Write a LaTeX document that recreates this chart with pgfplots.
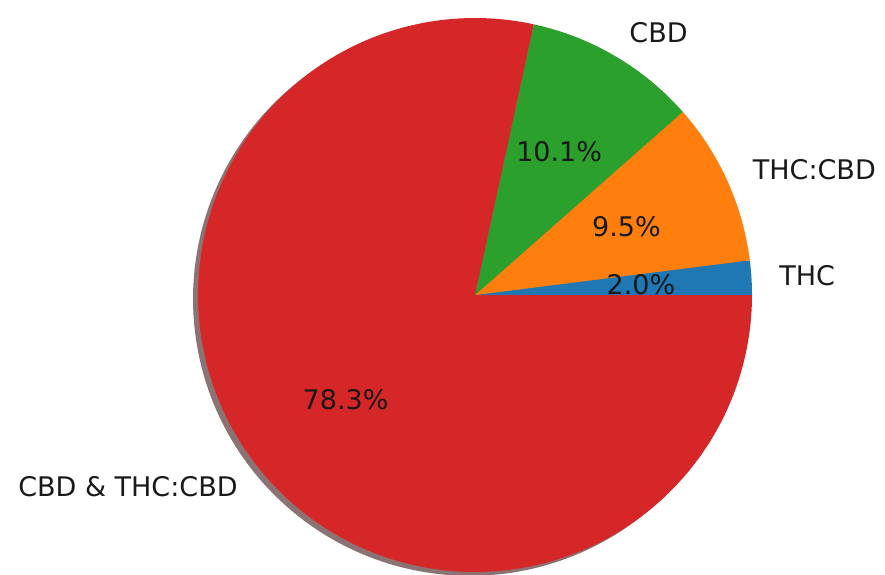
\documentclass[border=0pt]{standalone}
\usepackage{pgfplots}
\pgfplotsset{compat=1.18}
\usepackage{fontspec}
\setmainfont{DejaVu Sans}
\definecolor{tabblue}{HTML}{1F77B4}
\definecolor{taborange}{HTML}{FF7F0E}
\definecolor{tabgreen}{HTML}{2CA02C}
\definecolor{tabred}{HTML}{D62728}
\definecolor{shadowc}{RGB}{140,115,115}
% pie values (percent)
\def\vA{2.0}   % THC
\def\vB{9.5}   % THC:CBD
\def\vC{10.1}  % CBD
\def\vD{78.3}  % CBD & THC:CBD
\pgfmathsetmacro{\aA}{0}
\pgfmathsetmacro{\aB}{\aA+3.6*\vA}
\pgfmathsetmacro{\aC}{\aB+3.6*\vB}
\pgfmathsetmacro{\aD}{\aC+3.6*\vC}
\pgfmathsetmacro{\aE}{360}
\tikzset{lbl/.style={inner sep=0pt, font=\fontsize{27}{32}\selectfont, text=black!90}}
\begin{document}
\begin{tikzpicture}
\begin{axis}[
  scale only axis, width=885pt, height=575pt,
  xmin=-1.7148, xmax=1.4801, ymin=-1.0108, ymax=1.0650,
  axis line style={draw=none}, xtick=\empty, ytick=\empty,
  enlargelimits=false,
]
\addplot[fill=shadowc, draw=none, domain=0:360, samples=240] ({cos(x)-0.018},{sin(x)-0.014}) -- cycle;
\addplot[fill=tabblue, draw=none, domain=\aA:\aB, samples=10] ({cos(x)},{sin(x)}) -- (axis cs:0,0) -- cycle;
\addplot[fill=taborange, draw=none, domain=\aB:\aC, samples=40] ({cos(x)},{sin(x)}) -- (axis cs:0,0) -- cycle;
\addplot[fill=tabgreen, draw=none, domain=\aC:\aD, samples=40] ({cos(x)},{sin(x)}) -- (axis cs:0,0) -- cycle;
\addplot[fill=tabred, draw=none, domain=\aD:\aE, samples=240] ({cos(x)},{sin(x)}) -- (axis cs:0,0) -- cycle;
\node[lbl, anchor=west] at (axis cs:{1.1*cos((\aA+\aB)/2)},{1.1*sin((\aA+\aB)/2)}) {THC};
\node[lbl, anchor=west] at (axis cs:{1.1*cos((\aB+\aC)/2)},{1.1*sin((\aB+\aC)/2)}) {THC:CBD};
\node[lbl, anchor=west] at (axis cs:{1.1*cos((\aC+\aD)/2)},{1.1*sin((\aC+\aD)/2)}) {CBD};
\node[lbl, anchor=east] at (axis cs:{1.1*cos((\aD+\aE)/2)},{1.1*sin((\aD+\aE)/2)}) {CBD \& THC:CBD};
\node[lbl] at (axis cs:{0.6*cos((\aA+\aB)/2)},{0.6*sin((\aA+\aB)/2)}) {2.0\%};
\node[lbl] at (axis cs:{0.6*cos((\aB+\aC)/2)},{0.6*sin((\aB+\aC)/2)}) {9.5\%};
\node[lbl] at (axis cs:{0.6*cos((\aC+\aD)/2)},{0.6*sin((\aC+\aD)/2)}) {10.1\%};
\node[lbl] at (axis cs:{0.6*cos((\aD+\aE)/2)},{0.6*sin((\aD+\aE)/2)}) {78.3\%};
\end{axis}
\end{tikzpicture}
\end{document}
